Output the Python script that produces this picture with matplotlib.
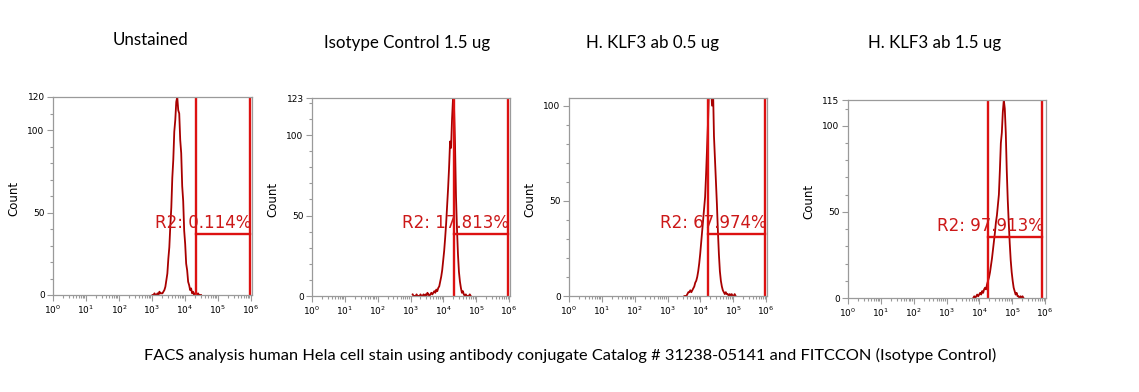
import numpy as np
import matplotlib
matplotlib.use("Agg")
from matplotlib import pyplot as plt
from matplotlib.ticker import FixedLocator, MultipleLocator, LogLocator, NullFormatter

# panel titles
titles = ["Unstained", "Isotype Control 1.5 ug", "H. KLF3 ab 0.5 ug", "H. KLF3 ab 1.5 ug"]
caption = "FACS analysis human Hela cell stain using antibody conjugate Catalog # 31238-05141 and FITCCON (Isotype Control)"

# y axis tops and labelled ticks
y_max = [120, 123, 104, 115]
y_labels = [[0, 50, 100, 120], [0, 50, 100, 123], [0, 50, 100], [0, 50, 100, 115]]

# histogram channels: log10 of the first channel, channel width in decades, counts
bin_start = [3.00, 3.05, 3.50, 3.80]
bin_step = 0.03
counts_unstained = [0, 0, 1, 0, 0, 1, 0, 2, 1, 1, 1, 2, 3, 5, 9, 13, 22, 29, 42, 53,
                    71, 82, 99, 106, 117, 120, 112, 110, 94, 86, 66, 57, 39, 31, 19, 15, 8, 6, 3, 4,
                    1, 2, 0, 1, 0, 0, 1, 0, 0, 0]
counts_isotype = [1, 0, 0, 0, 1, 0, 0, 0, 1, 0, 0, 1, 0, 1, 0, 2, 1, 0, 1, 2,
                  1, 2, 3, 2, 4, 3, 5, 6, 9, 12, 16, 22, 28, 36, 45, 56, 67, 80, 96, 92,
                  110, 123, 118, 95, 62, 42, 26, 15, 9, 5, 2, 3, 1, 0, 1, 0, 0, 0, 1, 0]
counts_klf3_05 = [0, 0, 0, 1, 2, 2, 3, 2, 3, 4, 5, 7, 8, 10, 13, 17, 22, 28, 34, 40,
                  46, 52, 64, 78, 92, 110, 108, 112, 100, 110, 84, 72, 60, 48, 34, 22, 13, 8, 5, 3,
                  2, 1, 2, 1, 1, 0, 1, 0, 1, 0, 0, 1, 0]
counts_klf3_15 = [0, 1, 0, 1, 2, 1, 2, 3, 2, 4, 3, 5, 6, 5, 8, 10, 12, 15, 19, 23,
                  28, 33, 38, 44, 48, 54, 60, 74, 90, 96, 108, 115, 110, 96, 74, 57, 44, 32, 22, 15,
                  10, 6, 4, 2, 3, 1, 1, 0, 1, 0, 1, 0]
all_counts = [counts_unstained, counts_isotype, counts_klf3_05, counts_klf3_15]

# R2 marker: log10 limits and height, and its percentage
gate_lo = [4.33, 4.32, 4.24, 4.27]
gate_hi = [5.97, 5.97, 5.97, 5.91]
gate_y = [37, 38.5, 32.5, 35.4]
gate_text = ["R2: 0.114%", "R2: 17.813%", "R2: 67.974%", "R2: 97.913%"]

W, H = 1139, 392
fig = plt.figure(figsize=(W / 100, H / 100), dpi=100)

# axes boxes in pixels: left, right, top, bottom
boxes = [(53, 252, 97, 295), (312, 510, 98, 296), (569, 767, 98, 296), (848, 1046, 100, 298)]
title_x = [150, 407, 652, 935]
title_y = [40, 43, 43, 43]

grey = "#9a9a9a"
curve_col = "#a80000"
gate_col = "#dd1111"

for i in range(4):
    l, r, t, b = boxes[i]
    ax = fig.add_axes([l / W, 1 - b / H, (r - l) / W, (b - t) / H])
    x = 10 ** (bin_start[i] + bin_step * np.arange(len(all_counts[i])) + bin_step / 2)
    ax.plot(x, all_counts[i], color=curve_col, lw=1.3)

    ax.set_xscale("log")
    ax.set_xlim(1, 10 ** 6.03)
    ax.set_ylim(0, y_max[i])

    ax.axvline(10 ** gate_lo[i], color=gate_col, lw=1.7)
    ax.axvline(10 ** gate_hi[i], color=gate_col, lw=1.7)
    ax.plot([10 ** gate_lo[i], 10 ** gate_hi[i]], [gate_y[i], gate_y[i]], color=gate_col, lw=1.7)
    ax.annotate(gate_text[i], (10 ** gate_hi[i], gate_y[i]), xytext=(1, 1.5), textcoords="offset points",
                ha="right", va="bottom", color="#cc1818", fontsize=12, zorder=5)

    ax.xaxis.set_major_locator(FixedLocator([10 ** k for k in range(7)]))
    ax.xaxis.set_minor_locator(LogLocator(base=10, subs=np.arange(2, 10), numticks=20))
    ax.xaxis.set_minor_formatter(NullFormatter())
    ax.set_xticklabels(["$10^{%d}$" % k for k in range(7)])
    ax.yaxis.set_major_locator(FixedLocator(y_labels[i]))
    ax.set_yticklabels([str(v) for v in y_labels[i]])
    ax.yaxis.set_minor_locator(MultipleLocator(10))

    ax.tick_params(which="both", direction="out", color=grey, labelsize=6.5, width=0.8)
    ax.tick_params(which="major", length=4, pad=2)
    ax.tick_params(which="minor", length=2)
    for s in ax.spines.values():
        s.set_color(grey)
        s.set_linewidth(0.9)
    ax.set_ylabel("Count", fontsize=8.5)
    ax.yaxis.set_label_coords(-33 / (r - l), 0.49)

    fig.text(title_x[i] / W, 1 - title_y[i] / H, titles[i], ha="center", va="center",
             fontsize=12.2, family="Lato")

fig.text(570 / W, 1 - 355 / H, caption, ha="center", va="center", fontsize=11.8, family="Lato")

fig.savefig("out.png", dpi=100)
